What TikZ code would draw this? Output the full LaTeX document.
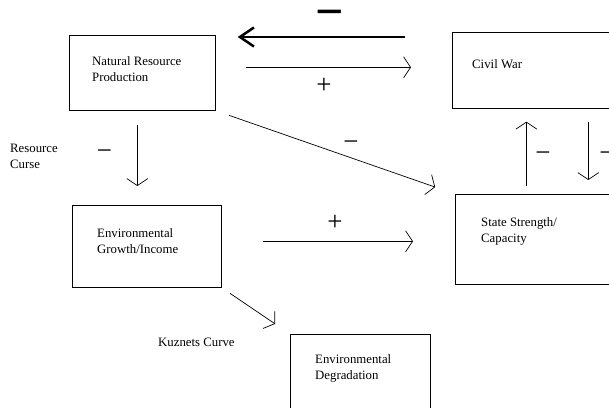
\documentclass[tikz,border=0pt]{standalone}
\usepackage{fontspec}
\setmainfont{Liberation Serif}
\usetikzlibrary{arrows.meta,positioning}

\begin{document}
\begin{tikzpicture}[
x=1pt, y=-1pt,
box/.style={draw, line width=0.7pt, inner sep=0pt, anchor=north west},
txt/.style={inner sep=0pt, align=left, anchor=north west, font=\fontsize{12.8}{16}\selectfont},
sign/.style={inner sep=0pt, anchor=base, font=\fontsize{27}{27}\selectfont},
arr/.style={-{Straight Barb[length=7pt, width=21pt]}, line width=0.7pt},
bigarr/.style={-{Straight Barb[length=14pt, width=19pt]}, line width=2.5pt}
]
\useasboundingbox (0,0) rectangle (609,407);
\node[box, minimum width=146pt, minimum height=75pt] (nrp) at (69,35) {};
\node[box, minimum width=175pt, minimum height=76pt] (cw) at (452,32) {};
\node[box, minimum width=149pt, minimum height=82pt] (eg) at (72,205) {};
\node[box, minimum width=175pt, minimum height=90pt] (ss) at (455,194) {};
\node[box, minimum width=140pt, minimum height=85pt] (ed) at (290,334) {};
\node[txt, below right=21pt and 23pt of nrp.north west] (nrptext) {Natural Resource\\Production};
\node[txt, below right=27pt and 20pt of cw.north west] (cwtext) {Civil War};
\node[txt, below right=23pt and 25pt of eg.north west] (egtext) {Environmental\\Growth/Income};
\node[txt, below right=23pt and 26pt of ss.north west] (sstext) {State Strength/\\Capacity};
\node[txt, below right=20pt and 25pt of ed.north west] (edtext) {Environmental\\Degradation};
\node[txt] (curse) at (10,144) {Resource\\Curse};
\node[txt] (kuznets) at (158,337.5) {Kuznets Curve};
\draw[bigarr, shorten <=47pt, shorten >=22pt] ([yshift=-5pt]cw.north west) -- ([yshift=-2pt]nrp.north east);
\draw[arr, shorten <=30pt, shorten >=41pt] ([yshift=5.5pt]nrp.east) -- ([yshift=3pt]cw.west);
\draw[arr, shorten <=14pt, shorten >=19pt] ([xshift=-5pt]nrp.south) -- ([xshift=-9.5pt]eg.north);
\draw[arr, shorten <=14pt, shorten >=21pt] (nrp.south east) -- (ss.north west);
\draw[arr, shorten <=8pt, shorten >=13pt] ([xshift=-16.5pt]ss.north) -- ([xshift=-13.5pt]cw.south);
\draw[arr, shorten <=13pt, shorten >=14pt] ([xshift=48.5pt]cw.south) -- ([xshift=45.5pt]ss.north);
\draw[arr, shorten <=41pt, shorten >=42pt] ([yshift=5pt]eg.east) -- ([yshift=-2pt]ss.west);
\draw[arr, shorten <=10pt, shorten >=18pt] (eg.south east) -- (ed.north west);
\node[sign, font=\bfseries\fontsize{50}{50}\selectfont] (m0) at (330,28) {−};
\node[sign] (p1) at (324,93) {+};
\node[sign] (m1) at (104.5,159.5) {−};
\node[sign] (m2) at (351,150) {−};
\node[sign] (m3) at (543,161) {−};
\node[sign] (m4) at (607,161) {−};
\node[sign] (p2) at (335,230.5) {+};
\end{tikzpicture}
\end{document}
